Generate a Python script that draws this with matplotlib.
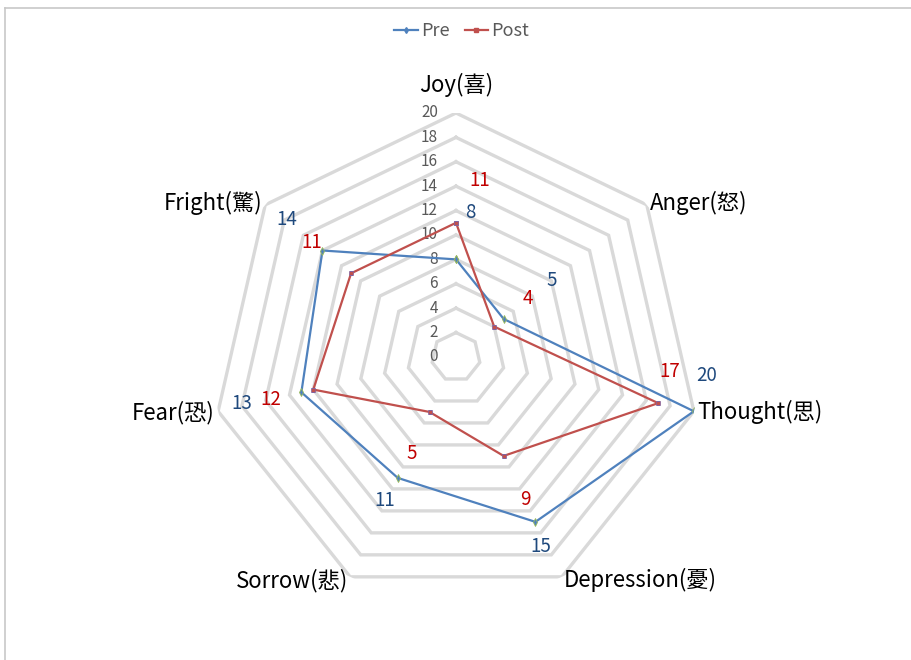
import numpy as np
import matplotlib.pyplot as plt
from matplotlib.lines import Line2D

plt.rcParams['font.family'] = ['Noto Sans CJK TC', 'DejaVu Sans']

categories = ["Joy(喜)", "Anger(怒)", "Thought(思)", "Depression(憂)",
              "Sorrow(悲)", "Fear(恐)", "Fright(驚)"]
pre = [8, 5, 20, 15, 11, 13, 14]
post = [11, 4, 17, 9, 5, 12, 11]
levels = [0, 2, 4, 6, 8, 10, 12, 14, 16, 18, 20]

# label placement (radial offset in units, angle offset in degrees)
pre_dr = [3.9, 5.0, 0.6, 2.0, 2.1, 5.0, 3.9]
pre_dt = [5.5, 0.0, -8.6, 1.5, 0.7, 0.5, 0.6]
post_dr = [3.6, 3.6, 0.6, 4.0, 3.7, 3.6, 4.1]
post_dt = [7.7, -0.7, -8.9, -0.1, -1.3, 0.0, -0.2]

n = len(categories)
theta = np.arange(n) * 2 * np.pi / n
closed = np.append(theta, theta[0])

fig = plt.figure(figsize=(9.11, 6.60), dpi=100)
ax = fig.add_axes([0.2327, 0.0894, 0.5357, 0.7394], projection="polar")
ax.set_theta_zero_location("N")
ax.set_theta_direction(-1)
ax.set_ylim(0, 20)
ax.grid(False)
ax.spines["polar"].set_visible(False)
ax.set_xticks([])
ax.set_yticks([])
ax.patch.set_visible(False)

# heptagon grid
for lv in levels[1:]:
    ax.plot(closed, [lv] * (n + 1), color="#D9D9D9", lw=2.4, zorder=1,
            solid_joinstyle="miter")

# value axis labels
for lv in levels:
    ax.annotate(str(lv), (0, lv), xytext=(-13, 0), textcoords="offset points",
                ha="right", va="center", fontsize=11, color="#595959")

blue = "#4F81BD"
red = "#C0504D"
ax.plot(closed, pre + [pre[0]], color=blue, lw=1.6, marker="d", ms=4,
        mfc=blue, mec="#9BBB59", mew=0.6, zorder=3)
ax.plot(closed, post + [post[0]], color=red, lw=1.6, marker="s", ms=3,
        mfc=red, mec="#8064A2", mew=0.5, zorder=3)

for i in range(n):
    ax.text(theta[i] + np.radians(pre_dt[i]), pre[i] + pre_dr[i], str(pre[i]),
            ha="center", va="center", fontsize=13.5, color="#1F497D")
    ax.text(theta[i] + np.radians(post_dt[i]), post[i] + post_dr[i], str(post[i]),
            ha="center", va="center", fontsize=13.5, color="#C00000")

# category labels
for i, lab in enumerate(categories):
    s = np.sin(theta[i])
    if abs(s) < 0.1:
        ax.text(theta[i], 21.3, lab, ha="center", va="bottom", fontsize=16)
    else:
        ha = "left" if s > 0 else "right"
        ax.text(theta[i], 20.3, lab, ha=ha, va="center", fontsize=16)

handles = [Line2D([], [], color=blue, lw=1.6, marker="d", ms=3),
           Line2D([], [], color=red, lw=1.6, marker="s", ms=2.5)]
fig.legend(handles, ["Pre", "Post"], loc="center", bbox_to_anchor=(0.507, 0.953),
           ncol=2, frameon=False, fontsize=13, handlelength=1.3,
           handletextpad=0.2, columnspacing=0.8, labelcolor="#595959")

# chart area border
fig.add_artist(Line2D([5 / 911, 1], [1 - 8 / 660, 1 - 8 / 660],
                      transform=fig.transFigure, color="#C8C8C8", lw=1.2))
fig.add_artist(Line2D([5 / 911, 5 / 911], [0, 1 - 8 / 660],
                      transform=fig.transFigure, color="#C8C8C8", lw=1.2))

fig.savefig("out.png", dpi=100)
